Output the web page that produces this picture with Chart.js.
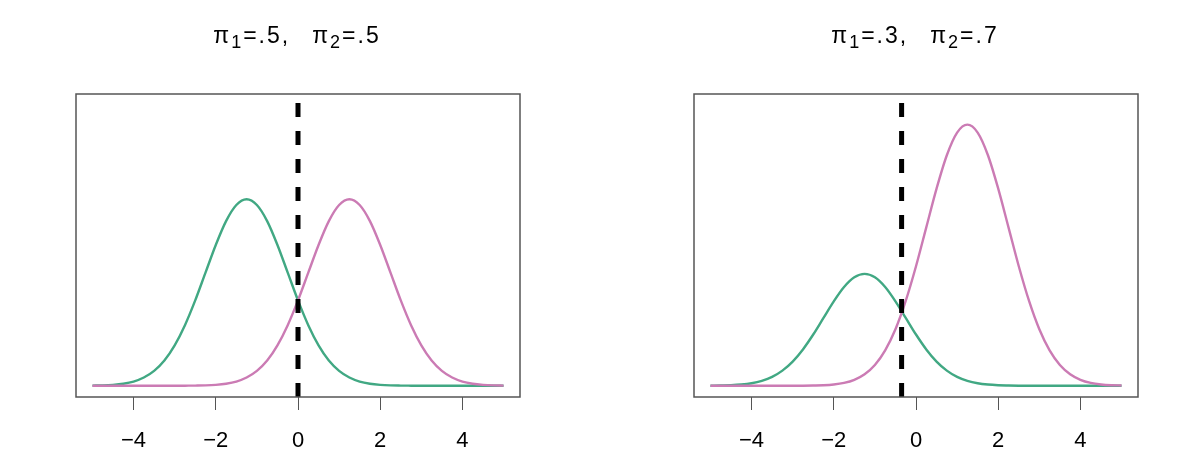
<!DOCTYPE html>
<html>
<head>
<meta charset="utf-8">
<script src="https://cdn.jsdelivr.net/npm/chart.js@4.4.1/dist/chart.umd.min.js"></script>
<style>
  html, body { margin: 0; padding: 0; background: #fff; }
  body { width: 1197px; height: 465px; position: relative; overflow: hidden; }
  .panel { position: absolute; top: 0; height: 465px; }
  #p1 { left: 0; width: 598px; }
  #p2 { left: 598px; width: 599px; }
</style>
</head>
<body>
<div class="panel" id="p1"><canvas id="c1"></canvas></div>
<div class="panel" id="p2"><canvas id="c2"></canvas></div>
<script>
// ---- data ----
const xGrid = [-5,-4.75,-4.5,-4.25,-4,-3.75,-3.5,-3.25,-3,-2.75,-2.5,-2.25,-2,-1.75,-1.5,-1.25,-1,-0.75,-0.5,-0.25,0,
               0.25,0.5,0.75,1,1.25,1.5,1.75,2,2.25,2.5,2.75,3,3.25,3.5,3.75,4,4.25,4.5,4.75,5];
const xTicks = [-4, -2, 0, 2, 4];

const leftGreen = [0.0002,0.0004,0.001,0.0022,0.0045,0.0088,0.0159,0.027,0.0432,0.0648,0.0913,0.121,0.1506,0.1761,0.1933,0.1995,
                   0.1933,0.1761,0.1506,0.121,0.0913,0.0648,0.0432,0.027,0.0159,0.0088,0.0045,0.0022,0.001,0.0004,0.0002,0.0001,
                   0,0,0,0,0,0,0,0,0];
const leftPink  = [0,0,0,0,0,0,0,0,0,0.0001,0.0002,0.0004,0.001,0.0022,0.0045,0.0088,0.0159,0.027,0.0432,0.0648,0.0913,0.121,
                   0.1506,0.1761,0.1933,0.1995,0.1933,0.1761,0.1506,0.121,0.0913,0.0648,0.0432,0.027,0.0159,0.0088,0.0045,
                   0.0022,0.001,0.0004,0.0002];
const rightGreen = [0.0001,0.0003,0.0006,0.0013,0.0027,0.0053,0.0095,0.0162,0.0259,0.0389,0.0548,0.0726,0.0903,0.1056,0.116,0.1197,
                    0.116,0.1056,0.0903,0.0726,0.0548,0.0389,0.0259,0.0162,0.0095,0.0053,0.0027,0.0013,0.0006,0.0003,0.0001,
                    0,0,0,0,0,0,0,0,0,0];
const rightPink  = [0,0,0,0,0,0,0,0,0,0.0001,0.0003,0.0006,0.0014,0.0031,0.0064,0.0123,0.0222,0.0378,0.0604,0.0907,0.1278,
                    0.1694,0.2108,0.2465,0.2707,0.2792,0.2707,0.2465,0.2108,0.1694,0.1278,0.0907,0.0604,0.0378,0.0222,0.0123,
                    0.0064,0.0031,0.0014,0.0006,0.0003];
const boundaries = [0, -0.35];
const priors = [[".5", ".5"], [".3", ".7"]];
const yRange = [-0.012, 0.312];
const xRange = [-5.4, 5.4];

// ---- styles ----
const FONT = '"Liberation Sans", Arial, Helvetica, sans-serif';
const GREEN = '#41a883';
const PINK = '#cb7bb4';

function pts(ys) { return xGrid.map((x, i) => ({ x: x, y: ys[i] })); }

const boxPlugin = {
  id: 'box',
  afterDraw(chart) {
    const a = chart.chartArea, ctx = chart.ctx;
    ctx.save();
    ctx.strokeStyle = '#555';
    ctx.lineWidth = 1.5;
    ctx.strokeRect(a.left, a.top, a.right - a.left, a.bottom - a.top);
    ctx.restore();
  }
};

const titlePlugin = {
  id: 'mathTitle',
  afterDraw(chart, args, opts) {
    const ctx = chart.ctx, a = chart.chartArea;
    const big = '23px ' + FONT, small = '18px ' + FONT;
    const pieces = [
      ['\u03C0', big, 0], ['1', small, 5], ['=' + opts.p1 + ',', big, 0], [null, null, 0],
      ['\u03C0', big, 0], ['2', small, 5], ['=' + opts.p2, big, 0]
    ];
    const gap = 22, ls = 2;
    ctx.save();
    if ('letterSpacing' in ctx) ctx.letterSpacing = ls + 'px';
    let total = 0;
    const widths = pieces.map(p => {
      if (p[0] === null) return gap;
      ctx.font = p[1];
      return ctx.measureText(p[0]).width;
    });
    widths.forEach(w => total += w);
    let x = (a.left + a.right) / 2 - 1 - total / 2;
    const base = 43;
    ctx.fillStyle = '#000';
    ctx.textBaseline = 'alphabetic';
    ctx.textAlign = 'left';
    pieces.forEach((p, i) => {
      if (p[0] !== null) {
        ctx.font = p[1];
        ctx.fillText(p[0], x, base + p[2]);
      }
      x += widths[i];
    });
    ctx.restore();
  }
};

function makeChart(id, green, pink, boundary, prior, padL, padR) {
  return new Chart(document.getElementById(id), {
    type: 'line',
    data: {
      datasets: [
        { label: 'boundary', data: [{ x: boundary, y: yRange[0] }, { x: boundary, y: yRange[1] }],
          borderColor: '#000', borderWidth: 5, borderDash: [14, 14], borderCapStyle: 'butt',
          pointRadius: 0, fill: false, tension: 0 },
        { label: 'class 2', data: pts(pink), borderColor: PINK, borderWidth: 2.4,
          pointRadius: 0, fill: false, cubicInterpolationMode: 'monotone' },
        { label: 'class 1', data: pts(green), borderColor: GREEN, borderWidth: 2.4,
          pointRadius: 0, fill: false, cubicInterpolationMode: 'monotone' }
      ]
    },
    options: {
      responsive: true,
      maintainAspectRatio: false,
      animation: false,
      events: [],
      layout: { padding: { left: padL, right: padR, top: 94, bottom: 0 } },
      plugins: {
        legend: { display: false },
        tooltip: { enabled: false },
        title: { display: false },
        mathTitle: { p1: prior[0], p2: prior[1] }
      },
      scales: {
        x: {
          type: 'linear',
          min: xRange[0], max: xRange[1],
          afterBuildTicks(s) { s.ticks = xTicks.map(v => ({ value: v })); },
          afterFit(s) { s.height = 68; },
          grid: { display: true, drawOnChartArea: false, drawTicks: true, tickLength: 13, color: '#555', lineWidth: 1 },
          border: { display: false },
          ticks: { font: { family: FONT, size: 22 }, color: '#000', padding: 18, maxRotation: 0,
                   callback: v => String(v).replace('-', '\u2212') }
        },
        y: {
          type: 'linear', min: yRange[0], max: yRange[1], display: false
        }
      }
    },
    plugins: [boxPlugin, titlePlugin]
  });
}

makeChart('c1', leftGreen, leftPink, boundaries[0], priors[0], 76, 78);
makeChart('c2', rightGreen, rightPink, boundaries[1], priors[1], 96, 59);
</script>
</body>
</html>
